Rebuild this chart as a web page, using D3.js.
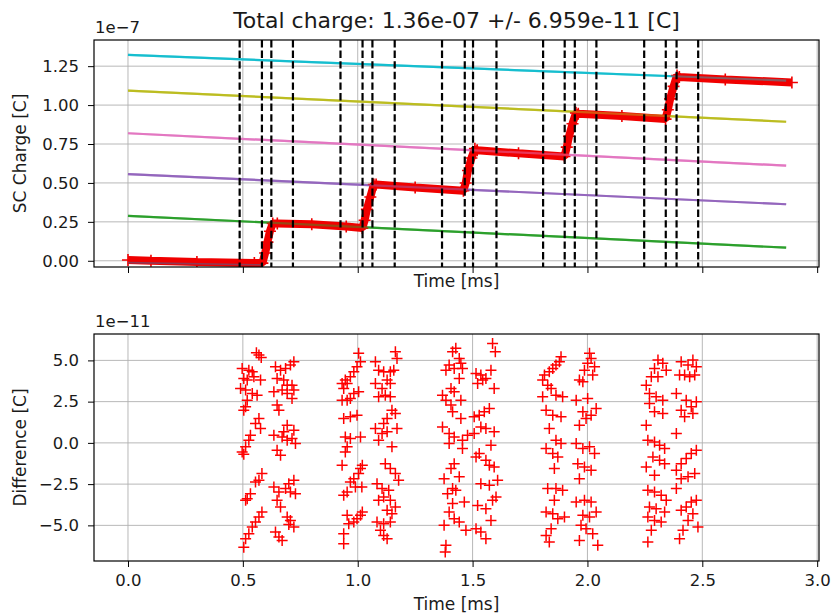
<!DOCTYPE html>
<html><head><meta charset="utf-8">
<script src="https://cdn.jsdelivr.net/npm/d3@7"></script>
<style>body{margin:0;background:#fff} text{font-family:"DejaVu Sans",sans-serif;fill:#1a1a1a}</style>
</head><body><svg id="c" width="834" height="616"></svg>
<script>
const titleText = "Total charge: 1.36e-07 +/- 6.959e-11 [C]";
const xTicks = [0, 0.5, 1, 1.5, 2, 2.5, 3];
const yTicksTop = [0, 0.25, 0.5, 0.75, 1, 1.25];
const yTicksBottom = [-5, -2.5, 0, 2.5, 5];

// vertical dashed edge markers (ms)
const edgeTimes = [0.486,0.583,0.624,0.718, 0.925,1.021,1.064,1.161, 1.367,1.466,1.502,1.604,
                   1.807,1.901,1.945,2.039, 2.247,2.341,2.388,2.482];

// plateau fit lines (1e-7 C), start/end at fitT
const fitT = [0, 2.865];
const fitColors = ["#2ca02c", "#9467bd", "#e377c2", "#bcbd22", "#17becf"];
const fitStart = [0.289, 0.557, 0.819, 1.093, 1.322];
const fitEnd   = [0.084, 0.363, 0.611, 0.893, 1.157];

// baseline fit (blue) under first plateau
const baseT = [0, 0.58];
const baseV = [-0.012, -0.026];

// measured SC charge trace (1e-7 C)
const traceT = [0.0, 0.1, 0.3, 0.55, 0.585, 0.597, 0.607, 0.618, 0.63, 0.65, 0.8, 0.95, 1.02,
  1.03, 1.04, 1.055, 1.07, 1.08, 1.25, 1.46, 1.47, 1.48, 1.495, 1.51, 1.52, 1.7, 1.9,
  1.91, 1.92, 1.935, 1.95, 1.96, 2.15, 2.34, 2.35, 2.36, 2.375, 2.39, 2.40, 2.6, 2.89];
const traceV = [0.005, 0.0, -0.008, -0.015, -0.015, 0.05, 0.12, 0.19, 0.24, 0.24, 0.235, 0.22, 0.21,
  0.26, 0.33, 0.41, 0.49, 0.49, 0.47, 0.45, 0.5, 0.58, 0.66, 0.72, 0.71, 0.69, 0.67,
  0.73, 0.80, 0.88, 0.95, 0.945, 0.93, 0.91, 0.97, 1.04, 1.12, 1.19, 1.18, 1.165, 1.145];

// residuals (1e-11 C) : [time ms, difference]
const diff1 = [[0.570,5.32],[0.559,5.47],[0.580,5.18],[0.497,4.51],[0.526,4.41],[0.541,4.31],[0.504,3.91],[0.519,3.81],[0.548,4.01],[0.577,3.81],[0.490,3.30],[0.512,3.20],[0.541,3.00],[0.562,2.89],[0.519,2.59],[0.512,2.19],[0.504,1.98],[0.570,1.48],[0.555,1.17],[0.577,0.87],[0.533,0.47],[0.526,0.16],[0.512,-0.24],[0.497,-0.55],[0.504,-0.69],[0.583,-1.86],[0.570,-2.27],[0.555,-2.37],[0.533,-3.08],[0.519,-3.38],[0.512,-3.48],[0.583,-4.19],[0.570,-4.49],[0.555,-4.80],[0.541,-5.10],[0.526,-5.51],[0.512,-5.81],[0.504,-6.32],
  [0.722,4.92],[0.707,4.72],[0.686,4.51],[0.664,4.41],[0.642,4.62],[0.649,3.91],[0.678,3.81],[0.693,3.50],[0.714,3.50],[0.722,3.20],[0.635,3.10],[0.671,3.20],[0.693,3.00],[0.714,2.69],[0.649,2.29],[0.657,1.98],[0.693,1.07],[0.722,0.77],[0.678,0.67],[0.635,0.47],[0.671,0.36],[0.693,0.16],[0.714,0.26],[0.729,-0.04],[0.649,-0.45],[0.664,-0.75],[0.722,-2.27],[0.700,-2.47],[0.686,-2.77],[0.635,-2.67],[0.657,-2.98],[0.707,-2.98],[0.729,-3.08],[0.649,-3.48],[0.664,-3.89],[0.693,-4.49],[0.707,-4.70],[0.700,-4.94],[0.722,-5.10],[0.642,-5.40],[0.657,-5.71],[0.671,-5.91]];
const diff2 = [[1.004,5.43],[1.012,4.92],[0.997,4.62],[0.983,4.31],[0.968,4.01],[0.946,3.81],[0.932,3.60],[0.954,3.60],[0.939,3.30],[1.004,3.10],[0.983,3.00],[0.968,2.69],[0.954,2.59],[0.932,2.59],[0.939,1.48],[0.968,1.58],[0.997,1.68],[0.946,0.36],[0.968,0.26],[1.012,0.36],[0.954,-0.24],[0.946,-0.55],[0.932,-1.36],[1.012,-1.56],[1.020,-1.36],[1.004,-1.86],[0.983,-2.17],[0.968,-2.37],[0.990,-2.67],[0.954,-2.98],[0.939,-3.18],[1.018,-2.67],[1.020,-4.19],[1.012,-4.39],[0.997,-4.60],[0.983,-4.80],[0.954,-4.39],[0.961,-4.90],[0.939,-5.51],[0.939,-6.11],
  [1.164,5.53],[1.171,5.12],[1.077,4.92],[1.091,4.41],[1.113,4.31],[1.142,4.31],[1.157,4.41],[1.128,3.81],[1.142,3.60],[1.077,3.60],[1.106,3.30],[1.120,2.89],[1.091,2.79],[1.142,2.79],[1.149,1.98],[1.164,1.78],[1.128,1.48],[1.113,1.17],[1.077,0.87],[1.171,0.87],[1.106,0.57],[1.128,0.67],[1.091,0.16],[1.149,-0.24],[1.120,-1.26],[1.142,-1.56],[1.164,-1.86],[1.178,-2.27],[1.084,-2.47],[1.106,-2.77],[1.135,-2.87],[1.091,-3.48],[1.113,-3.28],[1.142,-3.48],[1.164,-3.89],[1.128,-4.09],[1.149,-4.29],[1.084,-4.80],[1.113,-4.90],[1.142,-4.80],[1.099,-5.30],[1.113,-5.61],[1.128,-5.81]];
const diff3 = [[1.427,5.73],[1.413,5.53],[1.442,5.12],[1.398,4.72],[1.384,4.41],[1.420,4.51],[1.449,4.82],[1.456,4.51],[1.442,3.91],[1.406,3.30],[1.420,3.10],[1.369,2.89],[1.384,2.59],[1.406,2.29],[1.449,2.59],[1.413,1.88],[1.449,1.48],[1.369,0.97],[1.398,0.57],[1.420,0.36],[1.456,0.16],[1.478,0.47],[1.398,-0.04],[1.456,-0.34],[1.420,-1.26],[1.406,-1.56],[1.376,-2.17],[1.442,-2.06],[1.413,-2.77],[1.391,-3.08],[1.427,-2.87],[1.464,-3.58],[1.413,-3.68],[1.398,-4.19],[1.420,-4.60],[1.442,-4.80],[1.376,-5.00],[1.471,-5.30],[1.384,-6.21],[1.381,-6.62],
  [1.587,6.03],[1.599,5.53],[1.580,4.41],[1.515,4.21],[1.536,4.11],[1.558,3.91],[1.522,3.60],[1.544,3.81],[1.594,3.30],[1.573,2.09],[1.551,1.88],[1.529,1.68],[1.507,1.58],[1.536,0.97],[1.558,0.87],[1.594,0.67],[1.507,0.57],[1.580,-0.14],[1.529,-0.65],[1.515,-0.85],[1.558,-1.05],[1.573,-1.36],[1.594,-1.46],[1.536,-2.47],[1.573,-2.57],[1.609,-2.27],[1.602,-3.28],[1.587,-3.48],[1.522,-3.79],[1.558,-3.99],[1.580,-4.70],[1.515,-5.20],[1.536,-5.40],[1.558,-5.81]];
const diff4 = [[1.885,5.22],[1.878,4.92],[1.863,4.72],[1.849,4.51],[1.834,4.31],[1.813,4.11],[1.805,3.81],[1.827,3.50],[1.842,3.30],[1.863,2.89],[1.892,2.79],[1.805,2.79],[1.820,1.98],[1.849,1.68],[1.885,1.58],[1.834,0.87],[1.863,0.16],[1.885,-0.04],[1.820,-0.34],[1.849,-0.65],[1.871,-0.85],[1.856,-1.56],[1.827,-2.77],[1.863,-2.77],[1.892,-2.87],[1.856,-3.48],[1.820,-4.19],[1.849,-4.29],[1.871,-4.60],[1.900,-4.49],[1.842,-5.20],[1.820,-5.61],[1.834,-6.01],
  [2.009,5.43],[2.016,5.12],[2.001,4.82],[2.031,4.62],[1.987,4.41],[2.023,4.11],[1.965,3.81],[1.980,3.70],[1.951,2.59],[2.001,2.69],[2.038,2.09],[1.980,1.88],[2.016,1.68],[1.994,1.48],[1.965,1.07],[1.951,-0.04],[1.980,-0.34],[2.009,-0.24],[2.031,-0.65],[1.958,-1.26],[1.987,-1.46],[2.016,-1.66],[1.965,-2.17],[1.951,-3.58],[1.987,-3.48],[2.016,-3.58],[2.038,-4.19],[1.980,-4.39],[2.009,-4.49],[1.972,-5.00],[1.994,-5.20],[2.023,-5.51],[1.965,-5.91],[2.045,-6.21]];
const diff5 = [[2.307,5.02],[2.328,4.82],[2.343,4.41],[2.292,4.51],[2.278,4.01],[2.307,4.01],[2.256,3.50],[2.270,3.00],[2.299,2.79],[2.328,2.59],[2.270,2.39],[2.292,1.88],[2.328,1.78],[2.256,1.07],[2.263,0.16],[2.292,0.06],[2.314,-0.14],[2.336,-0.34],[2.285,-0.85],[2.314,-1.05],[2.336,-1.26],[2.256,-1.46],[2.292,-1.96],[2.263,-2.87],[2.292,-2.98],[2.321,-3.18],[2.343,-3.48],[2.270,-3.89],[2.299,-3.99],[2.336,-4.19],[2.263,-4.49],[2.292,-4.70],[2.321,-4.80],[2.278,-5.30],[2.263,-6.01],
  [2.459,5.02],[2.408,4.92],[2.438,4.72],[2.474,4.62],[2.401,4.11],[2.423,4.11],[2.445,4.01],[2.467,4.11],[2.387,3.00],[2.430,2.59],[2.452,2.19],[2.474,2.49],[2.408,1.98],[2.423,1.58],[2.459,1.78],[2.387,0.57],[2.474,-0.45],[2.452,-0.65],[2.430,-0.95],[2.408,-1.26],[2.387,-1.66],[2.467,-1.86],[2.438,-2.06],[2.408,-2.17],[2.387,-2.77],[2.474,-3.48],[2.452,-3.58],[2.430,-3.89],[2.408,-4.09],[2.459,-4.29],[2.438,-4.70],[2.481,-5.10],[2.416,-5.30],[2.401,-5.81]];

const svg = d3.select("#c");
const L = 94, R = 819;
const top1 = 40, bot1 = 267, top2 = 334, bot2 = 561;
const x = d3.scaleLinear().domain([-0.148, 3.008]).range([L, R]);
const yT = d3.scaleLinear().domain([-0.040, 1.418]).range([bot1, top1]);
const yB = d3.scaleLinear().domain([-7.16, 6.6]).range([bot2, top2]);
const FS = 16.5;

const defs = svg.append("defs");
defs.append("clipPath").attr("id","cp1").append("rect").attr("x",L).attr("y",top1).attr("width",R-L).attr("height",bot1-top1);
defs.append("clipPath").attr("id","cp2").append("rect").attr("x",L).attr("y",top2).attr("width",R-L).attr("height",bot2-top2);

function grid(g, yScale, yTicks, t, b) {
  g.selectAll(".gx").data(xTicks).join("line")
    .attr("x1", d => x(d)).attr("x2", d => x(d)).attr("y1", t).attr("y2", b)
    .attr("stroke", "#b0b0b0").attr("stroke-width", 0.9);
  g.selectAll(".gy").data(yTicks).join("line").attr("class","gy")
    .attr("x1", L).attr("x2", R).attr("y1", d => yScale(d)).attr("y2", d => yScale(d))
    .attr("stroke", "#b0b0b0").attr("stroke-width", 0.9);
}

// ---------- top panel ----------
const p1 = svg.append("g");
grid(p1.append("g"), yT, yTicksTop, top1, bot1);
const d1 = p1.append("g").attr("clip-path", "url(#cp1)");
const line = d3.line();
function fitLines(g, op) {
  fitColors.forEach((c, i) => {
    g.append("path").attr("d", line([[x(fitT[0]), yT(fitStart[i])], [x(fitT[1]), yT(fitEnd[i])]]))
      .attr("stroke", c).attr("stroke-width", 2.2).attr("fill", "none").attr("stroke-opacity", op);
  });
  g.append("path").attr("d", line(baseT.map((t, i) => [x(t), yT(baseV[i])])))
    .attr("stroke", "#1f77b4").attr("stroke-width", 1.6).attr("fill", "none").attr("stroke-opacity", op);
}
fitLines(d1, 1);
d1.append("path")
  .attr("d", line(traceT.map((t, i) => [x(t), yT(traceV[i])])))
  .attr("fill", "none").attr("stroke", "#f00000").attr("stroke-width", 8).attr("stroke-linejoin", "bevel");
d1.selectAll(".tm").data(traceT.map((t, i) => [t, traceV[i]])).join("path")
  .attr("d", d => `M${x(d[0])-6},${yT(d[1])}h12M${x(d[0])},${yT(d[1])-6}v12`)
  .attr("stroke", "#f00000").attr("stroke-width", 1.6);
fitLines(d1, 0.45);
d1.selectAll(".edge").data(edgeTimes).join("line")
  .attr("x1", d => x(d)).attr("x2", d => x(d)).attr("y1", top1).attr("y2", bot1)
  .attr("stroke", "#000").attr("stroke-width", 2.2).attr("stroke-dasharray", "7.4,3.2");

function axes(g, yScale, yTicks, yFmt, t, b, showX) {
  const ax = g.append("g").attr("transform", `translate(0,${b})`)
    .call(d3.axisBottom(x).tickValues(xTicks).tickSize(6).tickSizeOuter(0).tickPadding(7)
      .tickFormat(showX ? d3.format(".1f") : ""));
  const ay = g.append("g").attr("transform", `translate(${L},0)`)
    .call(d3.axisLeft(yScale).tickValues(yTicks).tickSize(6).tickSizeOuter(0).tickPadding(9).tickFormat(yFmt));
  [ax, ay].forEach(a => {
    a.select(".domain").remove();
    a.selectAll("line").attr("stroke", "#000").attr("stroke-width", 1);
    a.selectAll("text").attr("font-size", FS).attr("font-family", "DejaVu Sans").attr("fill", "#1a1a1a");
  });
  g.append("rect").attr("x", L).attr("y", t).attr("width", R - L).attr("height", b - t)
    .attr("fill", "none").attr("stroke", "#000").attr("stroke-width", 1.2);
}
axes(p1, yT, yTicksTop, d3.format(".2f"), top1, bot1, false);

// ---------- bottom panel ----------
const p2 = svg.append("g");
grid(p2.append("g"), yB, yTicksBottom, top2, bot2);
const d2 = p2.append("g").attr("clip-path", "url(#cp2)");
const allDiff = [].concat(diff1, diff2, diff3, diff4, diff5);
d2.selectAll(".pm").data(allDiff).join("path")
  .attr("d", d => `M${x(d[0])-5.5},${yB(d[1])}h11M${x(d[0])},${yB(d[1])-5.5}v11`)
  .attr("stroke", "#ff0000").attr("stroke-width", 1.5).attr("fill", "none");
axes(p2, yB, yTicksBottom, d3.format(".1f"), top2, bot2, true);

// ---------- texts ----------
svg.append("text").attr("x", (L + R) / 2).attr("y", 28).attr("text-anchor", "middle")
  .attr("font-size", 22).text(titleText);
svg.append("text").attr("x", 95).attr("y", 33).attr("font-size", FS).text("1e\u22127");
svg.append("text").attr("x", 95).attr("y", 327).attr("font-size", FS).text("1e\u221211");
svg.append("text").attr("x", (L + R) / 2).attr("y", 287).attr("text-anchor", "middle").attr("font-size", 17).text("Time [ms]");
svg.append("text").attr("x", (L + R) / 2).attr("y", 610).attr("text-anchor", "middle").attr("font-size", 17).text("Time [ms]");
svg.append("text").attr("transform", `translate(26,${(top1 + bot1) / 2}) rotate(-90)`).attr("text-anchor", "middle")
  .attr("font-size", 17).text("SC Charge [C]");
svg.append("text").attr("transform", `translate(26,${(top2 + bot2) / 2}) rotate(-90)`).attr("text-anchor", "middle")
  .attr("font-size", 17).text("Difference [C]");
</script></body></html>
